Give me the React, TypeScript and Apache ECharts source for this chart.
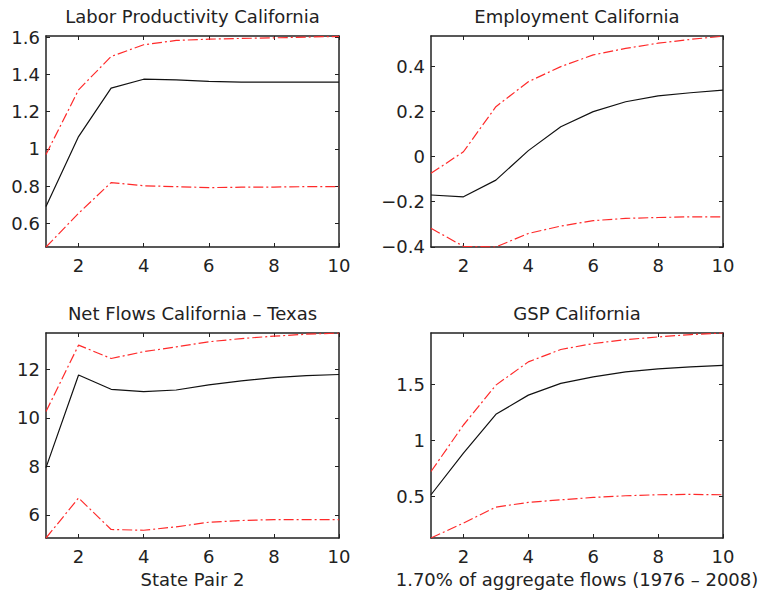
import React, { useEffect, useRef } from 'react';
import * as echarts from 'echarts';

// Horizon steps
const steps = [1, 2, 3, 4, 5, 6, 7, 8, 9, 10];
const xTicks = [2, 4, 6, 8, 10];

// Labor Productivity California
const lpUpper = [0.97, 1.317, 1.496, 1.559, 1.582, 1.589, 1.593, 1.596, 1.6, 1.604];
const lpMid = [0.69, 1.066, 1.326, 1.374, 1.37, 1.362, 1.358, 1.358, 1.358, 1.358];
const lpLower = [0.473, 0.654, 0.819, 0.802, 0.797, 0.792, 0.794, 0.795, 0.797, 0.797];
const lpTicks = [0.6, 0.8, 1, 1.2, 1.4, 1.6];

// Employment California
const emUpper = [-0.074, 0.022, 0.222, 0.333, 0.4, 0.452, 0.481, 0.504, 0.521, 0.535];
const emMid = [-0.17, -0.178, -0.104, 0.027, 0.133, 0.2, 0.244, 0.27, 0.284, 0.296];
const emLower = [-0.318, -0.398, -0.401, -0.341, -0.308, -0.284, -0.274, -0.27, -0.267, -0.267];
const emTicks = [-0.4, -0.2, 0, 0.2, 0.4];

// Net Flows California – Texas
const nfUpper = [10.26, 13.0, 12.45, 12.73, 12.93, 13.14, 13.27, 13.37, 13.45, 13.5];
const nfMid = [7.95, 11.77, 11.18, 11.08, 11.15, 11.36, 11.53, 11.66, 11.74, 11.79];
const nfLower = [5.05, 6.7, 5.4, 5.37, 5.51, 5.7, 5.77, 5.81, 5.81, 5.81];
const nfTicks = [6, 8, 10, 12];

// GSP California
const gspUpper = [0.722, 1.136, 1.491, 1.698, 1.808, 1.861, 1.896, 1.92, 1.941, 1.955];
const gspMid = [0.515, 0.885, 1.231, 1.402, 1.506, 1.565, 1.609, 1.636, 1.654, 1.666];
const gspLower = [0.13, 0.263, 0.405, 0.447, 0.47, 0.491, 0.506, 0.515, 0.518, 0.515];
const gspTicks = [0.5, 1, 1.5];

const titles = [
  'Labor Productivity California',
  'Employment California',
  'Net Flows California \u2013 Texas',
  'GSP California',
];
const xNames = ['', '', 'State Pair 2', '1.70% of aggregate flows (1976 \u2013 2008)'];

const panels = [
  { upper: lpUpper, mid: lpMid, lower: lpLower, ticks: lpTicks, min: 0.473, max: 1.606 },
  { upper: emUpper, mid: emMid, lower: emLower, ticks: emTicks, min: -0.401, max: 0.536 },
  { upper: nfUpper, mid: nfMid, lower: nfLower, ticks: nfTicks, min: 5.05, max: 13.5 },
  { upper: gspUpper, mid: gspMid, lower: gspLower, ticks: gspTicks, min: 0.13, max: 1.955 },
];

const grids = [
  { left: 46, top: 36, width: 293, height: 211 },
  { left: 431, top: 36, width: 292, height: 211 },
  { left: 46, top: 333, width: 293, height: 205 },
  { left: 431, top: 333, width: 292, height: 205 },
];

const FONT = 'DejaVu Sans';
const INK = '#222222';

function buildOption() {
  const xAxis: any[] = [];
  const yAxis: any[] = [];
  const series: any[] = [];
  const graphic: any[] = [];
  const axisLine = { show: true, onZero: false, lineStyle: { color: INK, width: 1.5 } };
  const fmt = (v: number) => String(v).replace('-', '\u2212');

  panels.forEach((p, i) => {
    const g = grids[i];
    xAxis.push({
      type: 'value', gridIndex: i, min: 1, max: 10, position: 'bottom',
      axisLine,
      axisTick: { show: true, inside: true, length: 4, customValues: xTicks, lineStyle: { color: INK, width: 1 } },
      axisLabel: { show: true, customValues: xTicks, margin: 9, color: INK, fontFamily: FONT, fontSize: 18 },
      splitLine: { show: false },
    });
    xAxis.push({
      type: 'value', gridIndex: i, min: 1, max: 10, position: 'top',
      axisLine,
      axisTick: { show: true, inside: true, length: 4, customValues: xTicks, lineStyle: { color: INK, width: 1 } },
      axisLabel: { show: false },
      splitLine: { show: false },
    });
    yAxis.push({
      type: 'value', gridIndex: i, min: p.min, max: p.max, position: 'left',
      axisLine,
      axisTick: { show: true, inside: true, length: 4, customValues: p.ticks, lineStyle: { color: INK, width: 1 } },
      axisLabel: { show: true, customValues: p.ticks, margin: 6, color: INK, fontFamily: FONT, fontSize: 18, formatter: fmt },
      splitLine: { show: false },
    });
    yAxis.push({
      type: 'value', gridIndex: i, min: p.min, max: p.max, position: 'right',
      axisLine,
      axisTick: { show: true, inside: true, length: 4, customValues: p.ticks, lineStyle: { color: INK, width: 1 } },
      axisLabel: { show: false },
      splitLine: { show: false },
    });
    const mk = (arr: number[]) => steps.map((x, k) => [x, arr[k]]);
    const red = { color: '#ff2a2a', width: 1.2, type: [10, 3, 2, 3] };
    series.push({
      type: 'line', xAxisIndex: 2 * i, yAxisIndex: 2 * i, data: mk(p.upper),
      showSymbol: false, symbol: 'none', lineStyle: red, silent: true,
    });
    series.push({
      type: 'line', xAxisIndex: 2 * i, yAxisIndex: 2 * i, data: mk(p.lower),
      showSymbol: false, symbol: 'none', lineStyle: red, silent: true,
    });
    series.push({
      type: 'line', xAxisIndex: 2 * i, yAxisIndex: 2 * i, data: mk(p.mid),
      showSymbol: false, symbol: 'none', lineStyle: { color: '#111111', width: 1.2, type: 'solid' }, silent: true,
    });
    const cx = g.left + g.width / 2;
    graphic.push({
      type: 'text', x: cx, y: g.top - 29,
      style: { text: titles[i], align: 'center', verticalAlign: 'top', fill: INK, fontFamily: FONT, fontSize: 18 },
    });
    if (xNames[i]) {
      graphic.push({
        type: 'text', x: cx, y: g.top + g.height + 32,
        style: { text: xNames[i], align: 'center', verticalAlign: 'top', fill: INK, fontFamily: FONT, fontSize: 18 },
      });
    }
  });

  return {
    animation: false,
    backgroundColor: '#ffffff',
    textStyle: { fontFamily: FONT },
    grid: grids.map((g) => ({ ...g, containLabel: false, outerBoundsMode: 'none' })),
    xAxis,
    yAxis,
    series,
    graphic,
  };
}

export default function App() {
  const ref = useRef<HTMLDivElement>(null);
  useEffect(() => {
    if (!ref.current) return;
    const chart = echarts.init(ref.current, null, { renderer: 'svg' });
    chart.setOption(buildOption() as any);
    return () => chart.dispose();
  }, []);
  return (
    <div
      ref={ref}
      style={{ position: 'absolute', left: 0, top: 0, width: 766, height: 594, background: '#fff' }}
    />
  );
}
